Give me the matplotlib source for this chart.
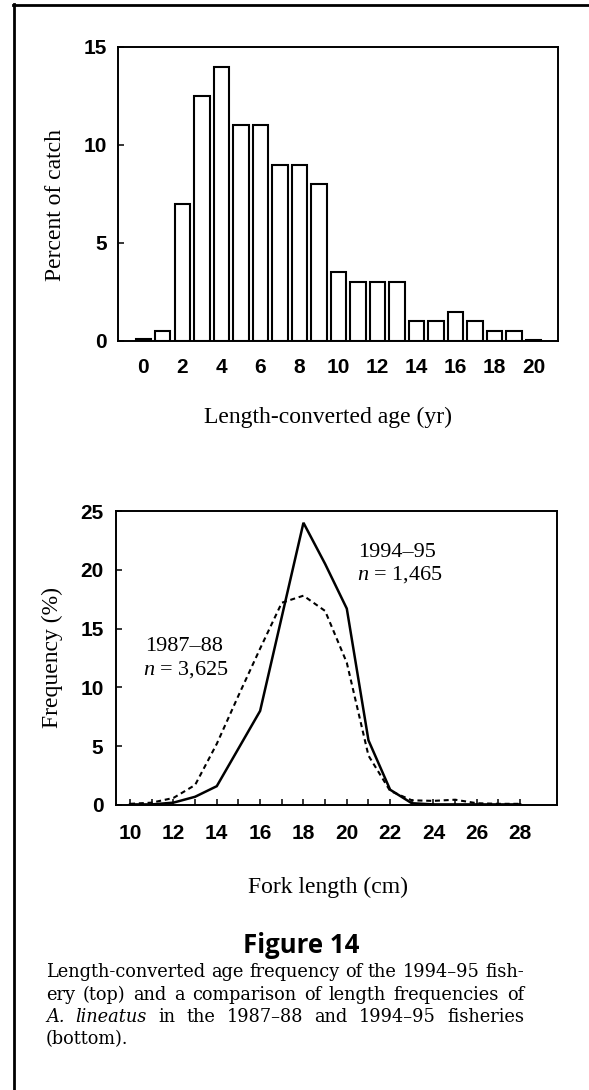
import matplotlib
matplotlib.use("Agg")
import matplotlib.pyplot as plt
from matplotlib.lines import Line2D
import numpy as np

# ---------------- data ----------------
ages = list(range(0, 21))
pct_catch = [0.1, 0.5, 7, 12.5, 14, 11, 11, 9, 9, 8, 3.5, 3, 3, 3, 1, 1, 1.5, 1, 0.5, 0.5, 0.05]
age_ticks = list(range(0, 21, 2))
pct_ticks = [0, 5, 10, 15]

lengths = list(range(10, 29))
freq_9495 = [0.05, 0.05, 0.2, 0.7, 1.6, 4.8, 8.0, 16.0, 24.0, 20.5, 16.7, 5.5, 1.3, 0.15, 0.05, 0.05, 0.05, 0.05, 0.05]
freq_8788 = [0.1, 0.2, 0.6, 1.7, 5.2, 9.3, 13.3, 17.2, 17.8, 16.5, 12.1, 4.2, 1.2, 0.4, 0.35, 0.45, 0.15, 0.1, 0.1]
len_ticks = list(range(10, 29, 2))
freq_ticks = [0, 5, 10, 15, 20, 25]

caption_lines = [
    'Length-converted age frequency of the 1994–95 fish-',
    'ery (top) and a comparison of length frequencies of',
    'A. lineatus in the 1987–88 and 1994–95 fisheries',
    '(bottom).',
]

# ---------------- style ----------------
W, H = 589, 1090
plt.rcParams['mathtext.fontset'] = 'custom'
plt.rcParams['mathtext.rm'] = 'Liberation Serif'
plt.rcParams['mathtext.it'] = 'Liberation Serif:italic'

fig = plt.figure(figsize=(W / 100, H / 100), dpi=100)
fig.patch.set_facecolor('white')

def fx(px):
    return px / W

def fy(py):
    return 1 - py / H

def ax_rect(l, r, t, b):
    return [fx(l), fy(b), (r - l) / W, (b - t) / H]

tick_font = dict(family='Liberation Sans', weight='bold', size=15)
serif_lbl = dict(family='Liberation Serif', size=17)

def style_axes(ax):
    for s in ax.spines.values():
        s.set_linewidth(1.4)
        s.set_color('black')
    ax.tick_params(direction='in', length=4, width=1.1, colors='black')
    for lab in ax.get_xticklabels() + ax.get_yticklabels():
        lab.set_fontfamily(tick_font['family'])
        lab.set_fontweight(tick_font['weight'])
        lab.set_fontsize(tick_font['size'])

# ---------------- top chart ----------------
ax1 = fig.add_axes(ax_rect(118, 558, 47, 341))
ax1.bar(ages, pct_catch, width=0.78, facecolor='white', edgecolor='black', linewidth=1.5)
ax1.set_xlim(-1.3, 21.25)
ax1.set_ylim(0, 15)
ax1.set_xticks(age_ticks)
ax1.set_yticks(pct_ticks)
style_axes(ax1)
ax1.tick_params(axis='x', length=0, pad=12)
ax1.tick_params(axis='y', pad=8)

fig.text(fx(56), fy(205), 'Percent of catch', rotation=90, ha='center', va='center', **serif_lbl)
fig.text(fx(328), fy(423), 'Length-converted age (yr)', ha='center', va='baseline', **serif_lbl)

# ---------------- bottom chart ----------------
ax2 = fig.add_axes(ax_rect(116, 557, 511, 805))
ax2.plot(lengths, freq_9495, color='black', lw=1.8, solid_joinstyle='miter')
ax2.plot(lengths, freq_8788, color='black', lw=1.5, dashes=(2.4, 1.8))
ax2.set_xlim(9.35, 29.7)
ax2.set_ylim(0, 25)
ax2.set_xticks(len_ticks)
ax2.set_xticks(lengths, minor=True)
ax2.set_yticks(freq_ticks)
style_axes(ax2)
ax2.tick_params(axis='x', which='both', direction='in', length=4, width=1.1, pad=14)
ax2.tick_params(axis='y', pad=9)

ann = dict(family='Liberation Serif', size=16, ha='center', va='center')
ax2.text(22.3, 21.5, '1994–95', **ann)
ax2.text(22.45, 19.6, '$n$ = 1,465', **ann)
ax2.text(12.5, 13.5, '1987–88', **ann)
ax2.text(12.6, 11.55, '$n$ = 3,625', **ann)

fig.text(fx(52), fy(658), 'Frequency (%)', rotation=90, ha='center', va='center', **serif_lbl)
fig.text(fx(328), fy(893), 'Fork length (cm)', ha='center', va='baseline', **serif_lbl)

# ---------------- caption ----------------
fig.text(fx(301), fy(953), 'Figure 14', ha='center', va='baseline',
         family='Open Sans', weight='bold', size=18.5)

cap_left, cap_right = 46, 524
renderer = fig.canvas.get_renderer()

def text_width(s, size, style='normal'):
    t = fig.text(0, 0, s, family='DejaVu Serif', size=size, style=style)
    w = t.get_window_extent(renderer).width
    t.remove()
    return w

base = 10.0
cap_size = base * (cap_right - cap_left) / text_width(caption_lines[0], base)
cap_font = dict(family='DejaVu Serif', size=cap_size)
space_w = text_width('a a', cap_size) - text_width('aa', cap_size)

def draw_line(words, y, justify=True):
    arts, widths = [], []
    for w, st in words:
        t = fig.text(0, fy(y), w, va='baseline', ha='left', style=st, **cap_font)
        arts.append(t)
        widths.append(t.get_window_extent(renderer).width)
    n = len(arts)
    gap = (cap_right - cap_left - sum(widths)) / (n - 1) if (justify and n > 1) else space_w
    x = cap_left
    for a, w in zip(arts, widths):
        a.set_x(fx(x))
        x += w + gap

N, I = 'normal', 'italic'
draw_line([(w, N) for w in caption_lines[0].split()], 977)
draw_line([(w, N) for w in caption_lines[1].split()], 1000)
w3 = caption_lines[2].split()
draw_line([(w3[0], I), (w3[1], I)] + [(w, N) for w in w3[2:]], 1022)
draw_line([(caption_lines[3], N)], 1044, justify=False)

# ---------------- page border ----------------
fig.add_artist(Line2D([fx(14), fx(14)], [fy(4), fy(1090)], color='black', lw=2.0, transform=fig.transFigure))
fig.add_artist(Line2D([fx(13), fx(589)], [fy(5), fy(5)], color='black', lw=2.0, transform=fig.transFigure))

fig.savefig('out.png', dpi=100, facecolor='white')
